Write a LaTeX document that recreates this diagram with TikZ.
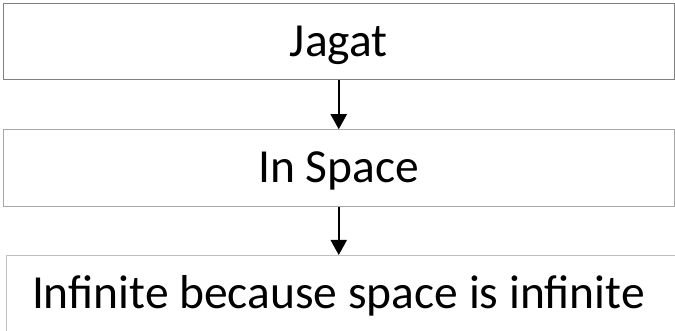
\documentclass[tikz,border=0pt]{standalone}
\usepackage{fontspec}
\setmainfont{Carlito}
\usetikzlibrary{arrows.meta}
\usetikzlibrary{positioning}

\begin{document}
\begin{tikzpicture}[x=1pt,y=1pt,->,>={Triangle[length=15pt,width=16pt]},
    thick,box node/.style={rectangle,draw=gray,line width=1pt,font=\fontsize{47.5}{57}\selectfont,
      text height=30pt,text depth=1pt,inner sep=0pt,minimum width=670.5pt,minimum height=76.5pt},
    link/.style={line width=2pt,black}]
   \clip (0,0) rectangle (675,-331);
   \node[box node] (jagat) at (338.75,-41.75) {Jagat};
   \node[box node,draw=gray!70] (space) at (338.75,-168) {In Space};
   %\node[box node] (inf) at (338.75,-293) {Infinite because space is infinite};
   \node[box node,draw=gray!50,anchor=north west,minimum width=0pt,minimum height=0pt,
      text width=760pt,align=flush left,inner xsep=26pt,inner ysep=23pt,text depth=12pt] (inf) at (5.5,-255) {Infinite because space is infinite};
   \path[link] (jagat) edge (space);
   \draw[link] (space.south) -- (space.south |- inf.north);
\end{tikzpicture}
\end{document}
